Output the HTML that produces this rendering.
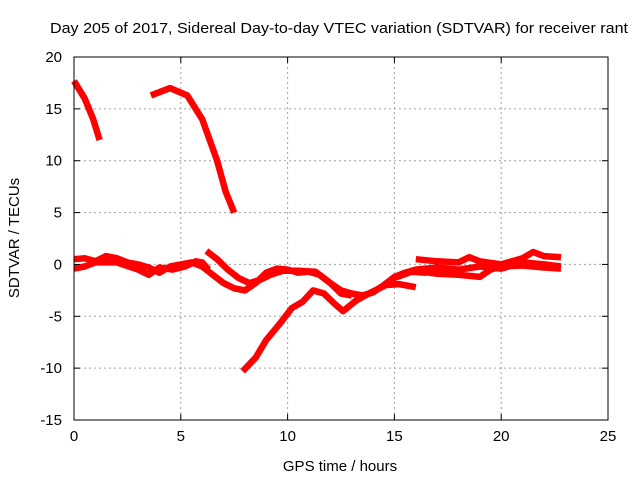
<!DOCTYPE html>
<html><head><meta charset="utf-8"><style>
body{margin:0;background:#fff}
svg{display:block;font-family:"Liberation Sans",sans-serif}
</style></head><body>
<svg id="chart" width="640" height="480" viewBox="0 0 640 480">
<text x="50" y="33" font-size="15" textLength="578" lengthAdjust="spacingAndGlyphs">Day 205 of 2017, Sidereal Day-to-day VTEC variation (SDTVAR) for receiver rant</text>
<text x="340" y="471" font-size="15" text-anchor="middle">GPS time / hours</text>
<text x="0" y="0" font-size="15" text-anchor="middle" transform="translate(19,238) rotate(-90)">SDTVAR / TECUs</text>
<g id="grid"></g><g id="series"></g><g id="axes"></g>
</svg>
<script>
const xTicks=[0,5,10,15,20,25];
const yTicks=[20,15,10,5,0,-5,-10,-15];
const s1=[[0,0.5],[0.5,0.6],[1,0.3],[1.5,0.8],[2,0.6],[2.5,0.2],[3,0],[3.5,-0.3],[4,-0.8],[4.5,-0.2],[5,0],[5.5,0.2],[6,-0.2],[6.5,-1],[7,-1.8],[7.5,-2.3],[8,-2.5],[8.5,-1.8],[9,-0.8],[9.5,-0.4],[10,-0.5],[10.5,-0.8],[11,-0.7],[11.5,-1],[12,-1.8],[12.5,-2.5],[13,-2.8],[13.5,-3],[14,-2.7],[14.5,-2],[15,-1.2],[15.5,-0.8],[16,-0.5],[17,-0.3],[18,-0.5],[19,-0.2],[20,-0.4],[21,0.2],[22,0],[22.8,-0.2]];
const s2=[[0,-0.4],[0.5,-0.2],[1,0.2],[2,0.2],[3,-0.5],[3.5,-1],[4,-0.3],[4.6,-0.5],[5.2,-0.2],[5.7,0.3],[6,0.2],[6.3,-0.5]];
const s3=[[6.2,1.3],[6.7,0.5],[7.2,-0.5],[7.7,-1.3],[8.2,-1.8],[8.7,-1.5],[9.2,-1.0],[9.8,-0.6],[10.5,-0.6],[11.3,-0.7],[12,-1.8],[12.5,-2.8],[13,-3]];
const s4=[[7.9,-10.3],[8.5,-9],[9,-7.3],[9.6,-5.8],[10.2,-4.2],[10.7,-3.6],[11.2,-2.5],[11.7,-2.8],[12.2,-3.8],[12.6,-4.5],[13.2,-3.5],[13.8,-2.8],[14.5,-2.1],[15,-1.3],[15.8,-0.7],[16.5,-0.8]];
const s5=[[14.5,-2],[15.2,-1.9],[16,-2.2]];
const s6=[[16,0.5],[17,0.3],[18,0.2],[18.5,0.7],[19,0.3],[20,0],[21,0.6],[21.5,1.2],[22,0.8],[22.8,0.7]];
const s7=[[16,-0.6],[17,-0.9],[18,-1],[19,-1.2],[19.5,-0.5],[20,-0.2],[21,-0.1],[22,-0.3],[22.8,-0.4]];
const sA=[[0,17.7],[0.5,16],[0.9,14],[1.2,12]];
const sB=[[3.6,16.3],[4.5,17],[5.3,16.3],[6,14],[6.7,10],[7.1,7],[7.5,5]];
const allSeries=[sA,sB,s1,s2,s3,s4,s5,s6,s7];
const X0=74,X1=608,Y0=420,Y1=57;
const xs=v=>X0+(v-0)/25*(X1-X0);
const ys=v=>Y0-(v+15)/35*(Y0-Y1);
const NS="http://www.w3.org/2000/svg";
function mk(t,a,p){const e=document.createElementNS(NS,t);for(const k in a)e.setAttribute(k,a[k]);p.appendChild(e);return e;}
const grid=document.getElementById('grid'),axes=document.getElementById('axes'),ser=document.getElementById('series');
xTicks.forEach(v=>{
 const x=xs(v);
 if(v>0&&v<25){const g=mk('line',{x1:x,x2:x,y1:Y1,y2:Y0,stroke:'#a0a0a0','stroke-dasharray':'2,3'},grid);
 
 }
 mk('line',{x1:x,x2:x,y1:Y0,y2:Y0-6,stroke:'#000'},axes);
 mk('line',{x1:x,x2:x,y1:Y1,y2:Y1+6,stroke:'#000'},axes);
 const t=mk('text',{x:x,y:Y0+21,'font-size':15,'text-anchor':'middle'},axes);t.textContent=v;
 
 
});
yTicks.forEach(v=>{
 const y=ys(v);
 if(v>-15&&v<20){const g=mk('line',{x1:X0,x2:X1,y1:y,y2:y,stroke:'#a0a0a0','stroke-dasharray':'2,3'},grid);
 
 }
 mk('line',{x1:X0,x2:X0+6,y1:y,y2:y,stroke:'#000'},axes);
 mk('line',{x1:X1,x2:X1-6,y1:y,y2:y,stroke:'#000'},axes);
 const t=mk('text',{x:X0-12,y:y+5,'font-size':15,'text-anchor':'end'},axes);t.textContent=v;
 
 
});
const fr=mk('rect',{x:X0,y:Y1,width:X1-X0,height:Y0-Y1,fill:'none',stroke:'#000'},axes);


allSeries.forEach((s,i)=>{
 const d=s.map((p,j)=>(j?'L':'M')+xs(p[0]).toFixed(1)+','+ys(p[1]).toFixed(1)).join('');
 const p=mk('path',{d:d,fill:'none',stroke:'#ff0000','stroke-width':6.5,'stroke-linejoin':'round','stroke-linecap':'butt'},ser);
 
 
});
</script>
</body></html>
